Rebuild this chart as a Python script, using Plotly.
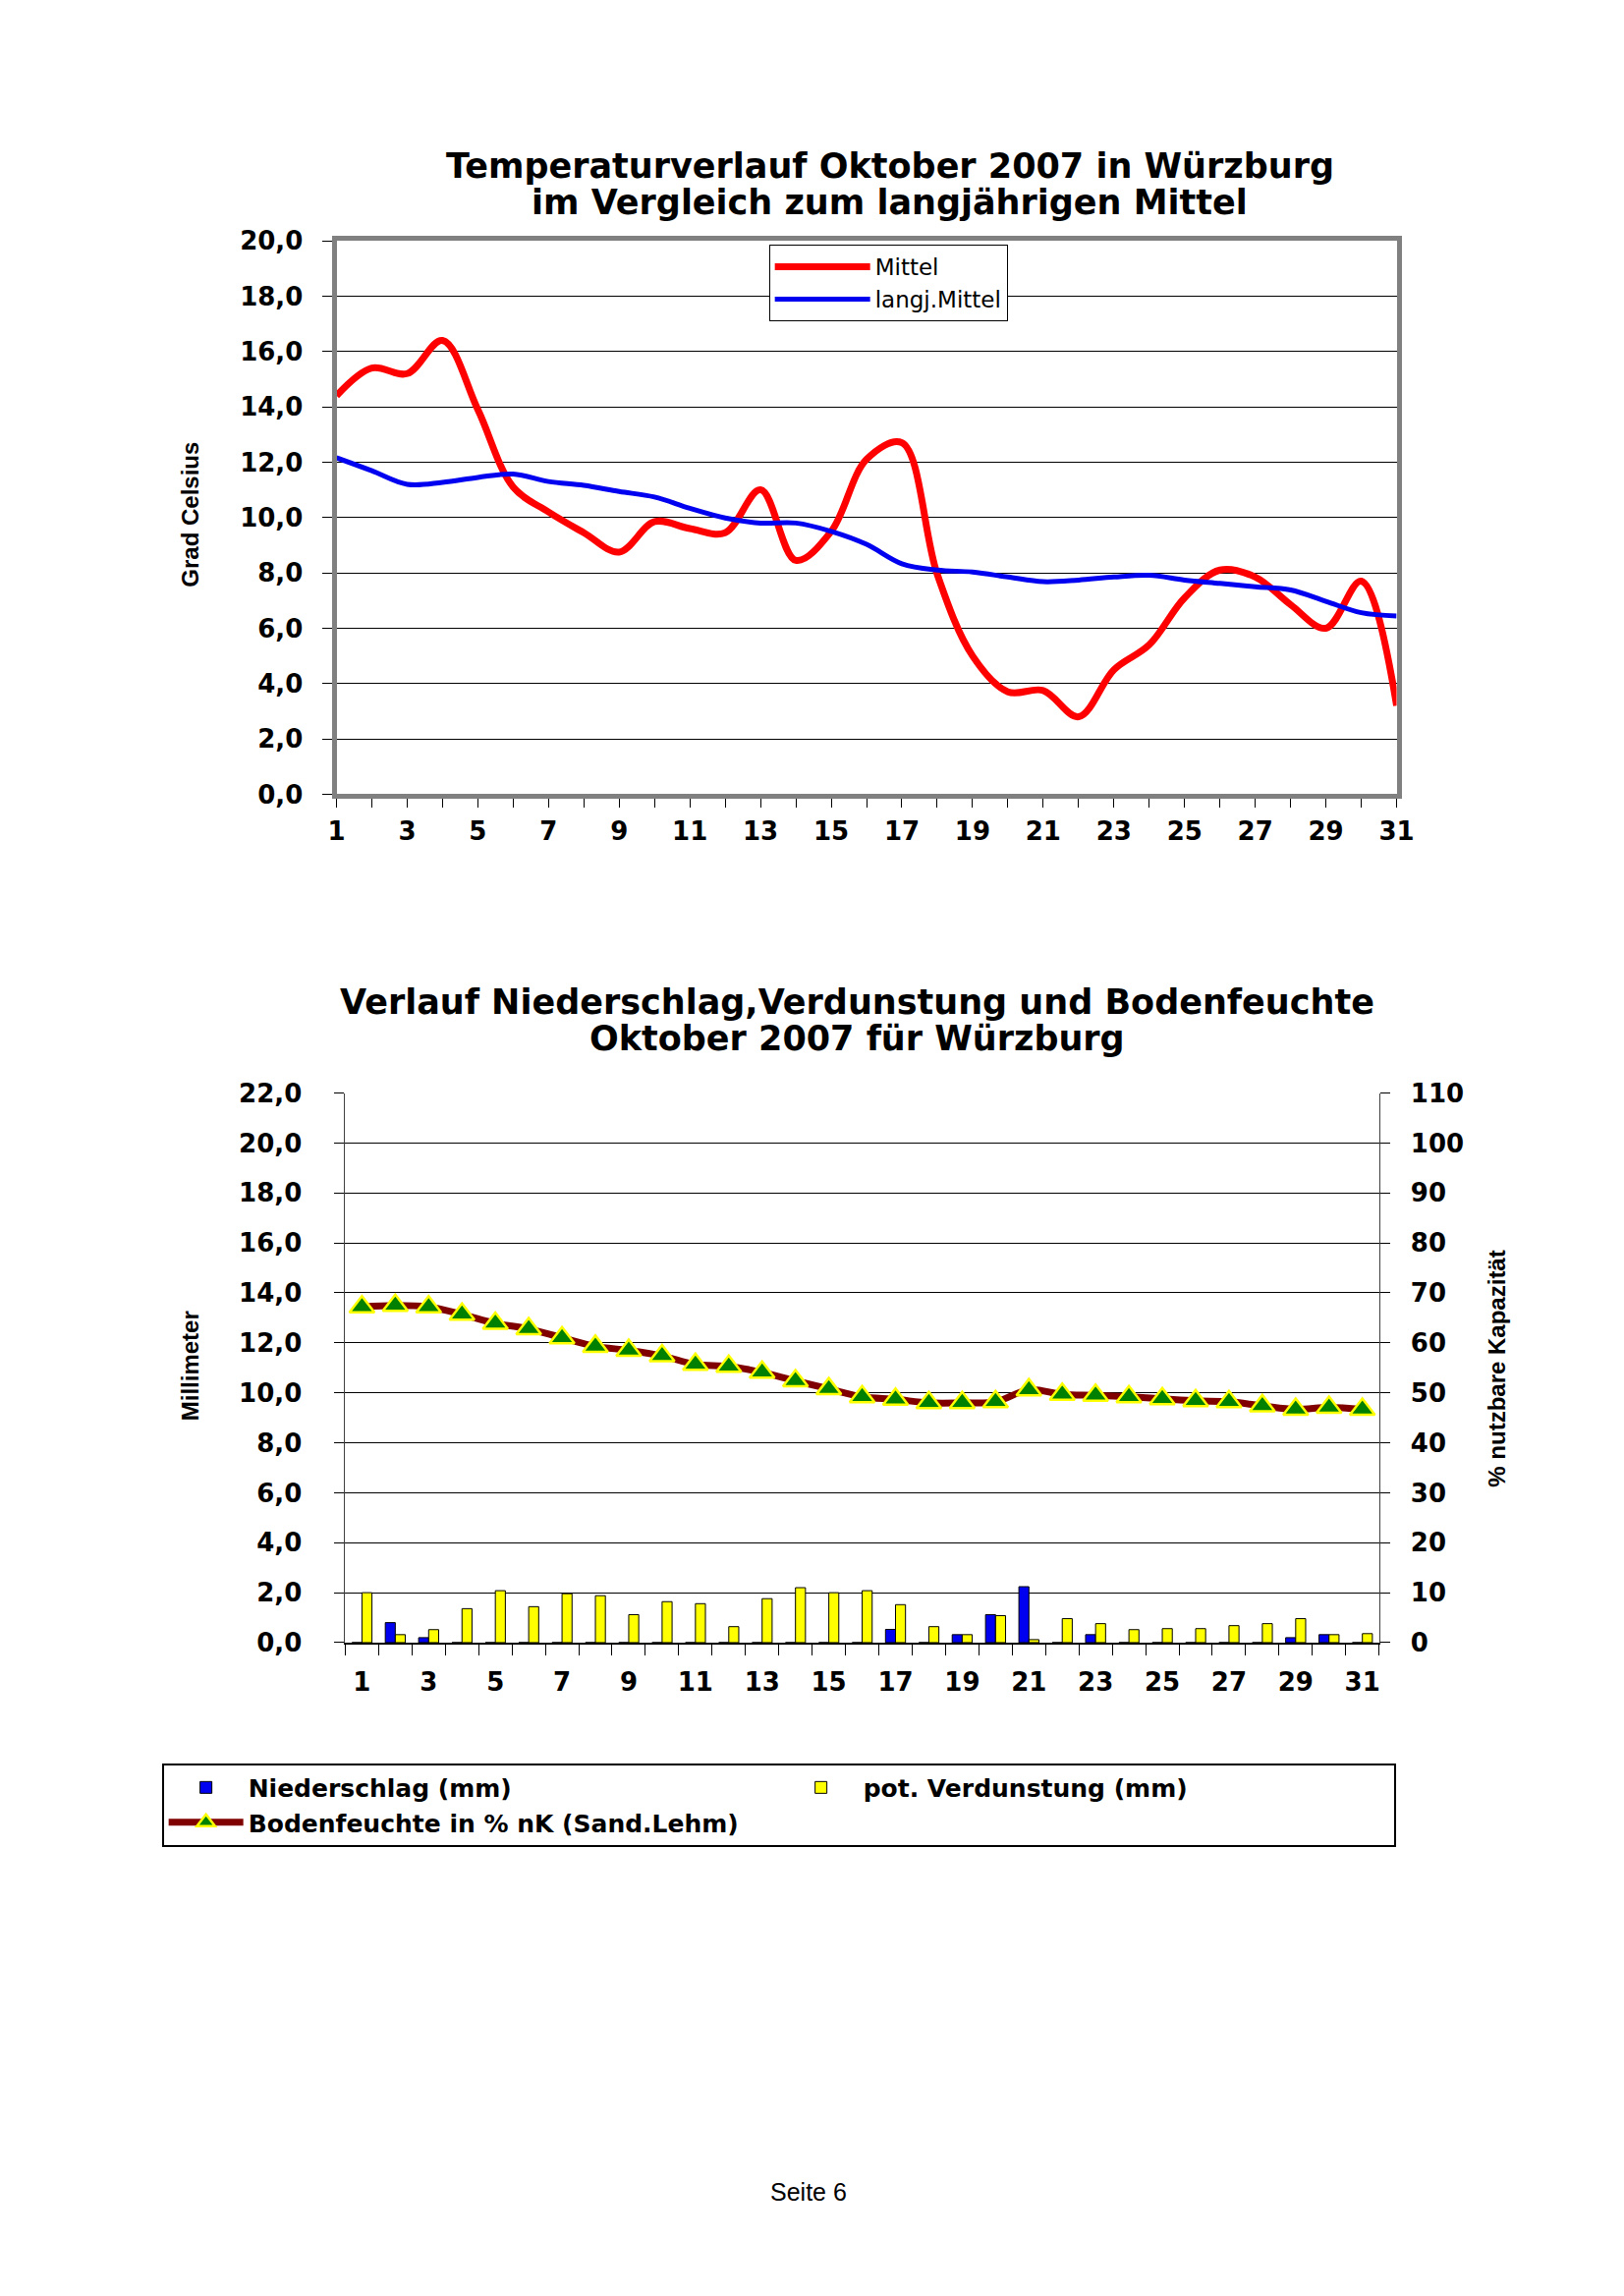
import plotly.graph_objects as go

# ---------------- data ----------------
days = list(range(1, 32))
temp_mittel = [14.4, 15.4, 15.2, 16.4, 13.9, 11.1, 10.2, 9.45, 8.75, 9.85, 9.6, 9.45, 11.0, 8.45, 9.5,
               12.1, 12.7, 7.95, 5.0, 3.7, 3.75, 2.8, 4.5, 5.4, 7.1, 8.1, 7.85, 6.85, 6.0, 7.7, 3.2]
temp_langj = [12.16, 11.69, 11.2, 11.27, 11.45, 11.57, 11.3, 11.16, 10.94, 10.74, 10.33, 9.98, 9.8, 9.8, 9.5,
              9.03, 8.33, 8.1, 8.03, 7.85, 7.68, 7.74, 7.85, 7.91, 7.74, 7.62, 7.5, 7.38, 6.97, 6.56, 6.44]
niederschlag = [0, 0.8, 0.2, 0, 0, 0, 0, 0, 0, 0, 0, 0, 0, 0, 0,
                0, 0.53, 0, 0.32, 1.12, 2.24, 0, 0.32, 0, 0, 0, 0, 0, 0.2, 0.32, 0]
verdunstung = [2.0, 0.32, 0.52, 1.36, 2.08, 1.44, 1.96, 1.88, 1.12, 1.64, 1.56, 0.64, 1.76, 2.2, 2.0,
               2.08, 1.52, 0.64, 0.32, 1.08, 0.12, 0.96, 0.76, 0.52, 0.56, 0.56, 0.68, 0.76, 0.96, 0.32, 0.36]
bodenfeuchte = [67.2, 67.5, 67.2, 65.7, 63.9, 62.8, 61.0, 59.3, 58.5, 57.4, 55.7, 55.3, 54.1, 52.4, 50.8,
                49.2, 48.7, 48.0, 48.0, 48.2, 50.6, 49.7, 49.5, 49.2, 48.8, 48.4, 48.2, 47.4, 46.7, 47.1, 46.7]

temp_ticks = [0, 2, 4, 6, 8, 10, 12, 14, 16, 18, 20]
temp_ticktext = ["0,0", "2,0", "4,0", "6,0", "8,0", "10,0", "12,0", "14,0", "16,0", "18,0", "20,0"]
mm_ticks = [0, 2, 4, 6, 8, 10, 12, 14, 16, 18, 20, 22]
mm_ticktext = ["0,0", "2,0", "4,0", "6,0", "8,0", "10,0", "12,0", "14,0", "16,0", "18,0", "20,0", "22,0"]
pct_ticks = [0, 10, 20, 30, 40, 50, 60, 70, 80, 90, 100, 110]
pct_ticktext = ["0", "10", "20", "30", "40", "50", "60", "70", "80", "90", "100", "110"]
odd_days = [1, 3, 5, 7, 9, 11, 13, 15, 17, 19, 21, 23, 25, 27, 29, 31]
odd_labels = [str(d) for d in odd_days]
top_ticktext = [str(d) if d % 2 == 1 else "" for d in days]

# ---------------- geometry helpers (page px -> paper) ----------------
W, H = 1653, 2337
OX, OY, S = 12.4, 20.3, 0.99


def px(x):
    return (x - OX) / S / W


def py(y):
    return 1 - (y - OY) / S / H


BOLD = dict(family="DejaVu Sans", size=26, color="black", weight="bold")
ROT = dict(family="Liberation Sans", size=24, color="black", weight="bold")
TITLE = dict(family="DejaVu Sans", size=35, color="black", weight="bold")

fig = go.Figure()

# ---------------- top chart ----------------
fig.add_trace(go.Scatter(x=days, y=temp_mittel, name="Mittel", mode="lines",
                         line=dict(color="#FF0000", width=7, shape="spline", smoothing=1.0),
                         xaxis="x", yaxis="y", legend="legend"))
fig.add_trace(go.Scatter(x=days, y=temp_langj, name="langj.Mittel", mode="lines",
                         line=dict(color="#0000F0", width=5, shape="spline", smoothing=1.0),
                         xaxis="x", yaxis="y", legend="legend"))

# ---------------- bottom chart ----------------
fig.add_trace(go.Bar(x=days, y=niederschlag, name="Niederschlag (mm)",
                     marker=dict(color="#0000F0", line=dict(color="black", width=1)),
                     xaxis="x2", yaxis="y2", legend="legend2"))
fig.add_trace(go.Bar(x=days, y=verdunstung, name="pot. Verdunstung (mm)",
                     marker=dict(color="#FFFF00", line=dict(color="black", width=1)),
                     xaxis="x2", yaxis="y2", legend="legend2"))
fig.add_trace(go.Scatter(x=days, y=bodenfeuchte, name="Bodenfeuchte in % nK (Sand.Lehm)",
                         mode="lines+markers",
                         line=dict(color="#800000", width=7, shape="spline", smoothing=1.0),
                         marker=dict(symbol="triangle-up", size=22, color="#008000",
                                     line=dict(color="#FFFF00", width=2.5)),
                         xaxis="x2", yaxis="y3", legend="legend2"))

fig.update_layout(
    width=W, height=H,
    margin=dict(l=0, r=0, t=0, b=0),
    paper_bgcolor="white", plot_bgcolor="white",
    barmode="group", bargap=0.4, bargroupgap=0.0,
    xaxis=dict(domain=[px(340), px(1426)], range=[1, 31], anchor="y",
               tickmode="array", tickvals=days, ticktext=top_ticktext,
               ticks="outside", ticklen=9, tickcolor="black", tickwidth=1,
               showline=True, linecolor="#808080", linewidth=5, mirror=True,
               showgrid=False, zeroline=False, tickfont=BOLD, ticklabelstandoff=1),
    yaxis=dict(domain=[py(808), py(243)], range=[0, 20], anchor="x",
               tickmode="array", tickvals=temp_ticks, ticktext=temp_ticktext,
               ticks="outside", ticklen=10, tickcolor="black", tickwidth=1,
               showline=True, linecolor="#808080", linewidth=5, mirror=True,
               showgrid=True, gridcolor="black", gridwidth=1, zeroline=False,
               tickfont=BOLD, ticklabelstandoff=14),
    xaxis2=dict(domain=[px(349), px(1408)], range=[0.5, 31.5], anchor="y2",
                tickmode="array", tickvals=odd_days, ticktext=odd_labels, ticks="",
                minor=dict(tickmode="linear", tick0=0.5, dtick=1, ticks="outside",
                           ticklen=11, tickcolor="black", tickwidth=1, showgrid=False),
                showline=True, linecolor="black", linewidth=1.5,
                showgrid=False, zeroline=False, tickfont=BOLD, ticklabelstandoff=16),
    yaxis2=dict(domain=[py(1674), py(1113)], range=[0, 22], anchor="x2",
                tickmode="array", tickvals=mm_ticks, ticktext=mm_ticktext,
                ticks="outside", ticklen=10, tickcolor="black", tickwidth=1,
                showline=True, linecolor="#404040", linewidth=1,
                showgrid=True, gridcolor="black", gridwidth=1, zeroline=False,
                tickfont=BOLD, ticklabelstandoff=28),
    yaxis3=dict(domain=[py(1674), py(1113)], range=[0, 110], anchor="x2",
                overlaying="y2", side="right",
                tickmode="array", tickvals=pct_ticks, ticktext=pct_ticktext,
                ticks="outside", ticklen=10, tickcolor="black", tickwidth=1,
                showline=True, linecolor="#404040", linewidth=1,
                showgrid=False, zeroline=False, tickfont=BOLD, ticklabelstandoff=16),
    legend=dict(x=px(783), y=py(247), xanchor="left", yanchor="top",
                bgcolor="white", bordercolor="black", borderwidth=1,
                font=dict(family="DejaVu Sans", size=23, color="black"),
                itemwidth=97, tracegroupgap=0),
    legend2=dict(x=px(161), y=py(1797), xanchor="left", yanchor="top",
                 orientation="h", entrywidth=535, entrywidthmode="pixels",
                 itemwidth=76,
                 bgcolor="white", bordercolor="black", borderwidth=2,
                 font=dict(family="DejaVu Sans", size=25, color="black", weight="bold"),
                 traceorder="normal"),
    showlegend=True,
)


def ann(text, x, y, font, angle=0):
    return dict(text=text, x=px(x), y=py(y), xref="paper", yref="paper",
                xanchor="center", yanchor="middle", textangle=angle,
                showarrow=False, font=font)


annotations = [
    ann("Temperaturverlauf Oktober 2007 in Würzburg", 907, 167, TITLE),
    ann("im Vergleich zum langjährigen Mittel", 907, 204, TITLE),
    ann("Verlauf Niederschlag,Verdunstung und Bodenfeuchte", 873, 1020, TITLE),
    ann("Oktober 2007 für Würzburg", 873, 1057, TITLE),
    ann("Grad Celsius", 190, 522, ROT, -90),
    ann("Millimeter", 190, 1391, ROT, -90),
    ann("% nutzbare Kapazität", 1529, 1394, ROT, -90),
    ann("Seite 6", 824, 2235, dict(family="Liberation Sans", size=25, color="black")),
]
fig.update_layout(annotations=annotations)

fig.write_html("out.html")
